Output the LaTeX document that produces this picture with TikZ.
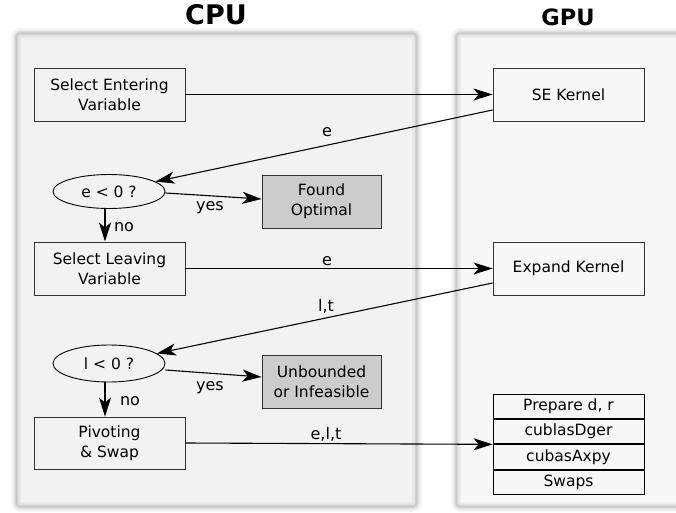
\documentclass[tikz,border=0pt]{standalone}
\usepackage{fontspec}
\setmainfont{DejaVu Sans}
\usetikzlibrary{arrows.meta,shapes.geometric,calc}
\definecolor{cpufill}{HTML}{F2F2F2}
\definecolor{gpufill}{HTML}{F7F7F7}
\definecolor{boxgray}{HTML}{CCCCCC}
\definecolor{edgecol}{HTML}{333333}
\begin{document}
\begin{tikzpicture}[x=1pt,y=-1pt,
  txt/.style={font=\fontsize{15.5}{20}\selectfont},
  box/.style={txt, draw=edgecol, line width=0.9pt, minimum width=151pt, minimum height=53pt, align=center, inner sep=0pt},
  endbox/.style={box, fill=boxgray, minimum width=119pt},
  cond/.style={txt, draw=black, line width=0.9pt, ellipse, minimum width=112pt, minimum height=34pt, inner sep=0pt},
  rowbox/.style={txt, draw=black, line width=0.9pt, minimum width=151pt, minimum height=24.5pt, inner sep=0pt},
  conn/.style={line width=1.1pt, -{Stealth[length=19pt,width=12pt,inset=5pt]}},
  lbl/.style={txt, font=\fontsize{16}{20}\selectfont, anchor=base, inner sep=0pt},
  title/.style={font=\bfseries, anchor=base, inner sep=0pt}
]
\fill[white] (0,0) rectangle (676,513);
\useasboundingbox (0,0) rectangle (676,513);

% panels
\begin{scope}
\clip (0,0) rectangle (676,513);
\fill[cpufill, rounded corners=4pt] (16,33) rectangle (417,507);
\foreach \lw/\op in {10/0.03,7/0.04,4/0.05,2/0.06}
  \draw[line width=\lw pt, black, opacity=\op, rounded corners=4pt] (16,33) rectangle (417,507);
\fill[gpufill, rounded corners=4pt] (456,33) rectangle (700,507);
\foreach \lw/\op in {10/0.03,7/0.04,4/0.05,2/0.06}
  \draw[line width=\lw pt, black, opacity=\op, rounded corners=4pt] (456,33) rectangle (700,507);
\end{scope}

% titles
\node[title, font=\fontsize{27}{30}\bfseries\selectfont] (tcpu) at (216,25) {CPU};
\node[title, font=\fontsize{22.5}{26}\bfseries\selectfont] (tgpu) at (568,26) {GPU};

% CPU nodes
\node[box] (se) at (109.5,94.5) {Select Entering\\Variable};
\node[cond] (e0) at (109,191.5) {e < 0 ?};
\node[endbox] (found) at (321.5,201.5) {Found\\Optimal};
\node[box] (sl) at (109.5,268.5) {Select Leaving\\Variable};
\node[cond, minimum height=37pt] (l0) at (109,363.5) {l < 0 ?};
\node[endbox] (unb) at (321.5,381.5) {Unbounded\\or Infeasible};
\node[box, minimum height=52pt] (piv) at (109.5,443) {Pivoting\\\& Swap};

% GPU nodes
\node[box] (sek) at (568.5,94.5) {SE Kernel};
\node[box] (exk) at (568.5,268.5) {Expand Kernel};
\node[rowbox] (r1) at (568.5,406.25) {Prepare d, r};
\node[rowbox, anchor=north] (r2) at (r1.south) {cublasDger};
\node[rowbox, anchor=north] (r3) at (r2.south) {cubasAxpy};
\node[rowbox, anchor=north] (r4) at (r3.south) {Swaps};

% connectors
\draw[conn] (se.east) -- (sek.west);
\draw[conn] ($(sek.west)+(0,15.5)$) -- (e0);
\node[lbl] (le1) at (327,137) {e};
\draw[conn] ($(e0.east)+(0,1.5)$) -- ($(found.west)+(0,-2.5)$);
\node[lbl] (ly1) at (210,210) {yes};
\draw[conn] ($(e0.south)+(-4,0)$) -- ($(sl.north)+(-4.5,0)$);
\node[lbl] (ln1) at (124,231) {no};

\draw[conn] (sl.east) -- (exk.west);
\node[lbl] (le2) at (327,265) {e};
\draw[conn] ($(exk.west)+(0,14.5)$) -- (l0);
\node[lbl] (llt) at (326,311) {l,t};
\draw[conn] ($(l0.east)+(0,6.5)$) -- ($(unb.west)+(0,-4.5)$);
\node[lbl] (ly2) at (210,390) {yes};
\draw[conn] ($(l0.south)+(-4,0)$) -- ($(piv.north)+(-4.5,0)$);
\node[lbl] (ln2) at (130,405) {no};

\draw[conn] (piv.east) -- (r2.south west);
\node[lbl] (lelt) at (326,439) {e,l,t};
\end{tikzpicture}
\end{document}
